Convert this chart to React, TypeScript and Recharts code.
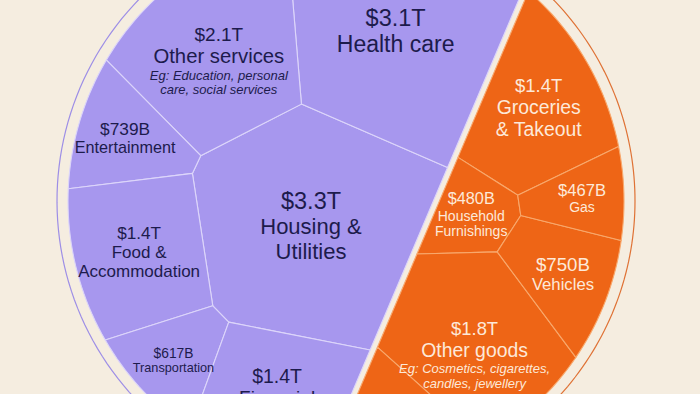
import React from "react";
import { ScatterChart, Scatter, XAxis, YAxis } from "recharts";

// ---------------- data (values in $ billions) ----------------
const serviceValues = [3300, 3100, 2100, 739, 1400, 617, 1400];
const serviceLabels = [
  ["Housing &", "Utilities"],
  ["Health care"],
  ["Other services"],
  ["Entertainment"],
  ["Food &", "Accommodation"],
  ["Transportation"],
  ["Financial", "services"],
];
const serviceNotes = [[], [], ["Eg: Education, personal", "care, social services"], [], [], [], []];

const goodsValues = [1400, 480, 1800, 850, 750, 467];
const goodsLabels = [
  ["Groceries", "& Takeout"],
  ["Household", "Furnishings"],
  ["Other goods"],
  ["Clothing &", "Recreation"],
  ["Vehicles"],
  ["Gas"],
];
const goodsNotes = [[], [], ["Eg: Cosmetics, cigarettes,", "candles, jewellery"], [], [], []];

// ---------------- layout & style ----------------
const W = 700;
const H = 394;
const CX = 346;
const CY = 201;
const R = 278;
const RING_R = 289;
const HALF_GAP = 2.8;
const SPLIT_ANGLE = -23;
const SERVICES_SEED = { center: 0, start: 66, step: 44 };
const GOODS_SEED = { center: -1, start: 70, step: 60 };
// [value font size, name font size] per cell
const serviceFonts = [[23.5, 22], [23.5, 23], [19, 20.3], [17.3, 16.2], [17.2, 17], [13.8, 12.7], [19.5, 19]];
const goodsFonts = [[18.5, 19.4], [16.3, 14], [18.4, 19.4], [16, 15], [18.7, 16.7], [16.6, 14]];
const NOTE_FONT = 13;
const BG = "#f5ede0";
const PURPLE = "#a797ee";
const PURPLE_EDGE = "#dcd5fa";
const PURPLE_RING = "#9d8ee6";
const ORANGE = "#ee6516";
const ORANGE_EDGE = "#f8a86c";
const ORANGE_RING = "#df7235";
const DARK = "#1d1b4c";
const LIGHT = "#fde9d9";
const FONT = "'Liberation Sans', Arial, sans-serif";

type Pt = { x: number; y: number };

function signedArea(p: Pt[]) {
  let a = 0;
  for (let i = 0; i < p.length; i++) {
    const q = p[(i + 1) % p.length];
    a += p[i].x * q.y - q.x * p[i].y;
  }
  return a / 2;
}
function centroidOf(p: Pt[]): Pt {
  const A = signedArea(p);
  if (Math.abs(A) < 1e-12) {
    let sx = 0, sy = 0;
    p.forEach((v) => { sx += v.x; sy += v.y; });
    return { x: sx / p.length, y: sy / p.length };
  }
  let cx = 0, cy = 0;
  for (let i = 0; i < p.length; i++) {
    const q = p[(i + 1) % p.length];
    const cr = p[i].x * q.y - q.x * p[i].y;
    cx += (p[i].x + q.x) * cr;
    cy += (p[i].y + q.y) * cr;
  }
  return { x: cx / (6 * A), y: cy / (6 * A) };
}
function clipHalf(poly: Pt[], ax: number, ay: number, b: number): Pt[] {
  const out: Pt[] = [];
  const m = poly.length;
  for (let k = 0; k < m; k++) {
    const P = poly[k], Q = poly[(k + 1) % m];
    const fp = ax * P.x + ay * P.y - b;
    const fq = ax * Q.x + ay * Q.y - b;
    if (fp <= 0) out.push(P);
    if ((fp < 0 && fq > 0) || (fp > 0 && fq < 0)) {
      const t = fp / (fp - fq);
      out.push({ x: P.x + t * (Q.x - P.x), y: P.y + t * (Q.y - P.y) });
    }
  }
  return out;
}
function powerCells(region: Pt[], s: Pt[], w: number[]) {
  return s.map((si, i) => {
    let c = region;
    for (let j = 0; j < s.length && c.length; j++) {
      if (j === i) continue;
      const sj = s[j];
      const ax = 2 * (sj.x - si.x), ay = 2 * (sj.y - si.y);
      const b = sj.x * sj.x + sj.y * sj.y - si.x * si.x - si.y * si.y - w[j] + w[i];
      c = clipHalf(c, ax, ay, b);
    }
    return c;
  });
}
function fixOverweight(s: Pt[], w: number[]) {
  let guard = 0, fixed = 0;
  do {
    fixed = 0;
    for (let i = 0; i < s.length; i++)
      for (let j = i + 1; j < s.length; j++) {
        const a = w[i] > w[j] ? i : j;
        const b = a === i ? j : i;
        const d2 = (s[a].x - s[b].x) ** 2 + (s[a].y - s[b].y) ** 2;
        const over = w[a] - w[b] - d2;
        if (over > 1e-12) { w[a] -= over + 1e-9; fixed++; }
      }
  } while (fixed > 0 && ++guard < 50);
}
function rayDistance(poly: Pt[], c: Pt, d: Pt) {
  let best = Infinity;
  for (let i = 0; i < poly.length; i++) {
    const p = poly[i], q = poly[(i + 1) % poly.length];
    const ex = q.x - p.x, ey = q.y - p.y;
    const den = d.x * ey - d.y * ex;
    if (Math.abs(den) < 1e-12) continue;
    const wx = p.x - c.x, wy = p.y - c.y;
    const t = (wx * ey - wy * ex) / den;
    const u = (wx * d.y - wy * d.x) / den;
    if (t > 0 && u >= 0 && u <= 1) best = Math.min(best, t);
  }
  return best === Infinity ? 0 : best;
}
function voronoiTreemap(region: Pt[], values: number[], seed: { center: number; start: number; step: number }) {
  const n = values.length;
  const A = Math.abs(signedArea(region));
  const tot = values.reduce((a, b) => a + b, 0);
  const target = values.map((v) => (A * v) / tot);
  const c0 = centroidOf(region);
  let k = 0;
  const sites: Pt[] = values.map((_, i) => {
    if (i === seed.center) return { ...c0 };
    const ang = ((seed.start + seed.step * k++) * Math.PI) / 180;
    const dir = { x: Math.cos(ang), y: Math.sin(ang) };
    const dist = rayDistance(region, c0, dir) * 0.6;
    return { x: c0.x + dir.x * dist, y: c0.y + dir.y * dist };
  });
  const w = values.map(() => A / n / 2);
  fixOverweight(sites, w);
  let cells = powerCells(region, sites, w);
  for (let it = 0; it < 600; it++) {
    const flick = it < 150 ? 0.15 : it < 400 ? 0.06 : 0.02;
    for (let i = 0; i < n; i++) if (cells[i].length >= 3) sites[i] = centroidOf(cells[i]);
    fixOverweight(sites, w);
    cells = powerCells(region, sites, w);
    for (let i = 0; i < n; i++) {
      const a = cells[i].length >= 3 ? Math.abs(signedArea(cells[i])) : 0;
      let r = a > 1e-9 ? target[i] / a : 1 + flick;
      r = Math.min(1 + flick, Math.max(1 - flick, r));
      w[i] = Math.max(w[i] * r, 1e-7);
    }
    fixOverweight(sites, w);
    cells = powerCells(region, sites, w);
  }
  return cells;
}

// ---------------- geometry (data units: circle radius = 1) ----------------
const circle: Pt[] = Array.from({ length: 240 }, (_, i) => {
  const a = (i / 240) * 2 * Math.PI;
  return { x: Math.cos(a), y: Math.sin(a) };
});
const sumS = serviceValues.reduce((a, b) => a + b, 0);
const sumG = goodsValues.reduce((a, b) => a + b, 0);
const nx = Math.cos((SPLIT_ANGLE * Math.PI) / 180);
const ny = Math.sin((SPLIT_ANGLE * Math.PI) / 180);
const circleArea = Math.abs(signedArea(circle));
let lo = -1, hi = 1;
for (let i = 0; i < 60; i++) {
  const mid = (lo + hi) / 2;
  const ga = Math.abs(signedArea(clipHalf(circle, -nx, -ny, -mid)));
  if (ga / circleArea > sumG / (sumS + sumG)) lo = mid; else hi = mid;
}
const splitD = (lo + hi) / 2;
const g = HALF_GAP / R;
const servicesRegion = clipHalf(circle, nx, ny, splitD - g);
const goodsRegion = clipHalf(circle, -nx, -ny, -(splitD + g));
const serviceCells = voronoiTreemap(servicesRegion, serviceValues, SERVICES_SEED);
const goodsCells = voronoiTreemap(goodsRegion, goodsValues, GOODS_SEED);

const thetaN = Math.atan2(ny, nx);
const alpha = Math.acos(splitD);
const rr = RING_R / R;
const arc = (a0: number, a1: number) =>
  Array.from({ length: 121 }, (_, i) => {
    const a = a0 + ((a1 - a0) * i) / 120;
    return { x: rr * Math.cos(a), y: rr * Math.sin(a) };
  });
const servicesRing = arc(thetaN + alpha, thetaN - alpha + 2 * Math.PI);
const goodsRing = arc(thetaN - alpha, thetaN + alpha);

const fmt = (v: number) => (v >= 1000 ? `$${(v / 1000).toFixed(1)}T` : `$${v}B`);

const labelPoints = [
  ...serviceCells.map((c, i) => ({
    ...centroidOf(c), value: serviceValues[i], lines: serviceLabels[i], notes: serviceNotes[i],
    fonts: serviceFonts[i], color: DARK,
  })),
  ...goodsCells.map((c, i) => ({
    ...centroidOf(c), value: goodsValues[i], lines: goodsLabels[i], notes: goodsNotes[i],
    fonts: goodsFonts[i], color: LIGHT,
  })),
];

const X_DOMAIN = [-CX / R, (W - CX) / R];
const Y_DOMAIN = [-(H - CY) / R, CY / R];

const toPath = (pts: { x: number; y: number }[], close: boolean) =>
  pts.map((p, i) => `${i ? "L" : "M"}${p.x.toFixed(2)},${p.y.toFixed(2)}`).join("") + (close ? "Z" : "");

const NoDot = () => <g />;

function LabelShape(props: any) {
  const { cx, cy, payload } = props;
  // a label whose cell centre lies below the visible frame stays hidden
  if (cy > H + 5) return <g />;
  const { value, lines, notes, color, fonts } = payload;
  const [fs, nfs] = fonts;
  const main = [
    { t: fmt(value), s: fs, lh: fs * 1.14, it: false },
    ...lines.map((t: string) => ({ t, s: nfs, lh: nfs * 1.13, it: false })),
  ];
  const extra = notes.map((t: string) => ({ t, s: NOTE_FONT, lh: NOTE_FONT * 1.13, it: true }));
  const mainH = main.reduce((a: number, r: any) => a + r.lh, 0);
  let y = cy - mainH / 2;
  const rows = [...main, ...extra];
  return (
    <g>
      {rows.map((r: any, i: number) => {
        const base = y + r.lh * 0.8;
        y += r.lh;
        return (
          <text key={i} x={cx} y={base} textAnchor="middle" fontSize={r.s} fontStyle={r.it ? "italic" : "normal"}
            fill={color} fontFamily={FONT}>
            {r.t}
          </text>
        );
      })}
    </g>
  );
}

export default function App() {
  return (
    <div style={{ position: "absolute", left: 0, top: 0, width: W, height: H, background: BG, overflow: "hidden" }}>
      <ScatterChart width={W} height={H} margin={{ top: 0, right: 0, bottom: 0, left: 0 }}>
        <XAxis type="number" dataKey="x" domain={X_DOMAIN} allowDataOverflow hide />
        <YAxis type="number" dataKey="y" domain={Y_DOMAIN} allowDataOverflow hide />
        {serviceCells.map((cell, i) => (
          <Scatter key={"s" + i} data={cell} shape={NoDot} isAnimationActive={false}
            line={(p: any) => <path d={toPath(p.points, true)} fill={PURPLE} stroke={PURPLE_EDGE} strokeWidth={1.1} strokeLinejoin="round" />} />
        ))}
        {goodsCells.map((cell, i) => (
          <Scatter key={"g" + i} data={cell} shape={NoDot} isAnimationActive={false}
            line={(p: any) => <path d={toPath(p.points, true)} fill={ORANGE} stroke={ORANGE_EDGE} strokeWidth={1.1} strokeLinejoin="round" />} />
        ))}
        <Scatter data={servicesRing} shape={NoDot} isAnimationActive={false}
          line={(p: any) => <path d={toPath(p.points, false)} fill="none" stroke={PURPLE_RING} strokeWidth={1.2} />} />
        <Scatter data={goodsRing} shape={NoDot} isAnimationActive={false}
          line={(p: any) => <path d={toPath(p.points, false)} fill="none" stroke={ORANGE_RING} strokeWidth={1.2} />} />
        <Scatter data={labelPoints} shape={LabelShape} isAnimationActive={false} />
      </ScatterChart>
    </div>
  );
}
